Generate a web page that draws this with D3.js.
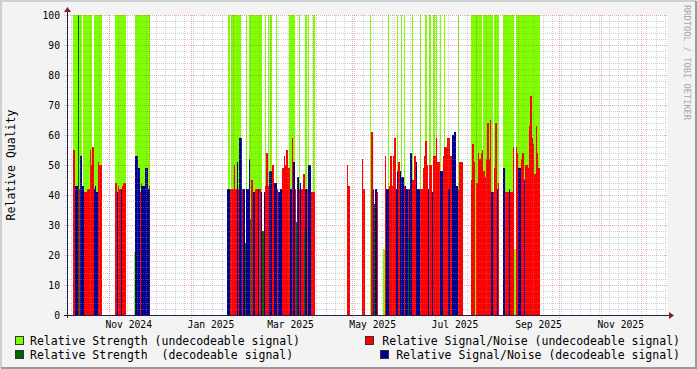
<!DOCTYPE html>
<html>
<head>
<meta charset="utf-8">
<script src="https://cdn.jsdelivr.net/npm/d3@7/dist/d3.min.js"></script>
<style>
  body { margin: 0; background: #f3f3f3; }
  svg { display: block; }
  text { font-family: "DejaVu Sans Mono", monospace; white-space: pre; }
</style>
</head>
<body>
<svg id="chart" width="697" height="369"></svg>
<script>
const n = null;

// Daily values, one run per active period: [first day, values...]
const strengthUndec = [
  ["2024-10-06", [100,100,100,100,100,100,n,100,100,100,100,100,100,100,n,100,100,100,100,100,100]],
  ["2024-11-06", [100,100,100,100,100,100,100,100]],
  ["2024-11-20", [21,100,100,100,100,100,100,100,100,100,100,100]],
  ["2025-01-28", [n,100,n,100,100,100,100,100,100,100, n,n,n,n,100,n,100,100,100,100,
                  100,100,100,100,100,100,n,n,100,n, 100,n,100,n,n,n,100,n,n,n,
                  n,n,n,n,n,n,100,100,100,100, n,n,n,100,n,n,n,n,100,n, 100,n,n,n,100]],
  ["2025-05-14", [100,n,n,n,n,n,n,n,n,n, 22,n,n,100,n,n,n,n,n,n, 100,n,n,100,n,100,n,n,n,n,
                  n,100,n,n,n,n,n,100,n,n, n,100,n,n,100,n,n,100,n,100, n,n,100,n,n,100,n,n,n,n,
                  n,n,n,n,n,100,n,n,n]],
  ["2025-07-28", [100,100,100,100,100,100,100,100,n,100, 100,100,100,100,100,100,n,100,100,100,
                  100,n,n,n,100,100,100,100,100,100, 100,100,22,100,100,100,100,100,100,100,
                  100,100,100,100,100,100,100,100,100,100, 100]]
];

const snrUndec = [
  ["2024-10-06", [55,n,n,n,42,n,n,n,41,41,42,42,55,50,56,n,n,n,51,50,50]],
  ["2024-11-06", [44,n,43,42,n,43,44,44]],
  ["2024-11-20", [n,n,n,n,41,44,n,n,n,n,n,43]],
  ["2025-01-28", [n,n,42,42,42,50,42,n,42,n, n,42,n,n,n,n,n,n,45,n, n,42,42,n,42,n,n,n,43,54,
                  43,n,n,50,50,n,n,42,n,n, n,49,53,50,55,49,49,n,59,n, 42,n,n,42,n,42,47,47,n,42,
                  n,n,41,41,41]],
  ["2025-04-27", [50,43]],
  ["2025-05-08", [52,42]],
  ["2025-05-14", [n,61,n,n,n,41,n,n,n,n, n,53,n,n,43,53,43,53,59,n, n,51,n,n,n,43,n,n,42,n,
                  n,45,45,53,n,n,n,42,42,49, 53,58,50,n,50,50,n,53,53,59, 51,51,n,n,53,56,56,59,59,53,
                  53,n,n,n,n,42,51,51,51]],
  ["2025-07-28", [45,57,51,n,44,54,52,54,55,48, 46,52,64,52,65,41,41,49,64,n,
                  44,n,n,n,n,41,41,41,n,41, 41,56,n,56,54,n,n,52,54,n,
                  50,50,49,63,73,59,57,47,63,54, 49]]
];

const strengthDec = [
  ["2024-10-09", [100]],
  ["2025-02-10", [24,n,n,n,32]],
  ["2025-02-23", [28]],
  ["2025-03-20", [31,n,n,n,n,n,28]],
  ["2025-05-17", [37]],
  ["2025-06-11", [26]]
];

const snrDec = [
  ["2024-10-07", [43,43,n,n,53,43,43]],
  ["2024-10-21", [42,43,41]],
  ["2024-11-07", [41,n,n,42]],
  ["2024-11-21", [53,53,49,n,43,43,43,49,49,42,42]],
  ["2025-01-28", [42,42,n,n,n,n,n,51,n,59, 59,n,42,n,42,42,52,n,n,41, 41,n,n,42,n,41,n,41,n,n,
                  n,48,48,n,n,44,44,n,41,42, 42,n,n,n,n,n,n,42,n,51, n,n,46,n,44,n,n,n,42,n,
                  50,50,n,n,n]],
  ["2025-05-14", [n,n,42,n,42,n,n,n,n,n, n,n,42,42,n,n,n,n,n,42, 48,n,48,46,46,n,43,42,n,42,
                  54,n,n,n,51,42,42,n,n,n, n,n,n,42,n,n,41,n,n,n, n,n,48,48,n,n,n,n,42,n,
                  n,60,61,61,43,n,n,n,n]],
  ["2025-08-12", [41,n,n,n,42, n,n,n,n,49,n,n,n,42,n, n,n,n,n,n,49,49,n,n,45]]
];

const series = [
  { name: "Relative Strength (undecodeable signal)", data: strengthUndec, color: "#7fff00" },
  { name: "Relative Signal/Noise (undecodeable signal)", data: snrUndec, color: "#ff0000" },
  { name: "Relative Strength  (decodeable signal)", data: strengthDec, color: "#006400" },
  { name: "Relative Signal/Noise (decodeable signal)", data: snrDec, color: "#000090" }
];

const monthLabels = ["Nov 2024", "Jan 2025", "Mar 2025", "May 2025", "Jul 2025", "Sep 2025", "Nov 2025"];
const yTicks = d3.range(0, 101, 10);

const W = 697, H = 369;
const pLeft = 67, pRight = 667, pTop = 15, pBottom = 315;

const svg = d3.select("#chart");
const parse = d3.utcParse("%Y-%m-%d");
const day = 864e5;

const x = d3.scaleUtc()
  .domain([new Date(Date.UTC(2024, 9, 1, 5)), new Date(Date.UTC(2025, 11, 20, 8))])
  .range([pLeft, pRight]);
const y = d3.scaleLinear().domain([0, 100]).range([pBottom, pTop]);

// flatten runs into daily points
function expand(runs) {
  const out = [];
  for (const [start, vals] of runs) {
    const t0 = parse(start).getTime();
    vals.forEach((v, i) => { if (v != null) out.push({ t: new Date(t0 + i * day), v }); });
  }
  return out;
}

// frame and canvas
svg.append("rect").attr("width", W).attr("height", H).attr("fill", "#f3f3f3");
svg.append("path").attr("d", `M1,${H - 1}V1H${W - 1}`).attr("fill", "none")
  .attr("stroke", "#cfcfcf").attr("stroke-width", 2);
svg.append("path").attr("d", `M1,${H - 1}H${W - 1}V1`).attr("fill", "none")
  .attr("stroke", "#9a9a9a").attr("stroke-width", 2);
svg.append("rect").attr("x", pLeft).attr("y", pTop)
  .attr("width", pRight - pLeft).attr("height", pBottom - pTop).attr("fill", "#fff");

// data (RRD style step areas, one rect per day)
const plot = svg.append("g").attr("shape-rendering", "crispEdges");
series.forEach((s) => {
  plot.append("g").selectAll("rect")
    .data(expand(s.data))
    .join("rect")
    .attr("x", (d) => x(d.t))
    .attr("width", (d) => x(new Date(d.t.getTime() + day)) - x(d.t))
    .attr("y", (d) => y(d.v))
    .attr("height", (d) => y(0) - y(d.v))
    .attr("fill", s.color);
});

// grid on top of the data
const grid = svg.append("g").attr("shape-rendering", "crispEdges").attr("stroke-dasharray", "1,1");
const minorCol = "rgba(140,140,140,0.4)";
const majorCol = "rgba(220,60,60,0.42)";

d3.range(0, 101, 2).filter((v) => v % 10 !== 0).forEach((v) => {
  grid.append("line").attr("x1", pLeft - 2).attr("x2", pRight)
    .attr("y1", y(v) + 0.5).attr("y2", y(v) + 0.5).attr("stroke", minorCol);
});
d3.utcFriday.range(...x.domain()).forEach((t) => {
  grid.append("line").attr("x1", x(t) + 0.5).attr("x2", x(t) + 0.5)
    .attr("y1", pTop).attr("y2", pBottom + 2).attr("stroke", minorCol);
});
yTicks.forEach((v) => {
  grid.append("line").attr("x1", pLeft - 3).attr("x2", pRight)
    .attr("y1", y(v) + 0.5).attr("y2", y(v) + 0.5).attr("stroke", majorCol);
});
d3.utcMonth.range(...x.domain()).forEach((t) => {
  grid.append("line").attr("x1", x(t) + 0.5).attr("x2", x(t) + 0.5)
    .attr("y1", pTop).attr("y2", pBottom + 3).attr("stroke", majorCol);
});

// axes
const axisCol = "#20204a";
svg.append("line").attr("x1", pLeft - 3).attr("x2", pRight + 2)
  .attr("y1", pBottom + 0.5).attr("y2", pBottom + 0.5).attr("stroke", axisCol);
svg.append("line").attr("x1", pLeft + 0.5).attr("x2", pLeft + 0.5)
  .attr("y1", pBottom + 3).attr("y2", pTop - 3).attr("stroke", axisCol);
svg.append("path").attr("d", `M${pRight + 2},${pBottom - 3}L${pRight + 7},${pBottom + 0.5}L${pRight + 2},${pBottom + 4}Z`)
  .attr("fill", "#7f1f1f");
svg.append("path").attr("d", `M${pLeft - 3},${pTop - 3}L${pLeft + 0.5},${pTop - 8}L${pLeft + 4},${pTop - 3}Z`)
  .attr("fill", "#7f1f1f");

// tick labels
svg.append("g").selectAll("text").data(yTicks).join("text")
  .attr("x", 60).attr("y", (d) => y(d) + 3.5)
  .attr("text-anchor", "end").attr("font-size", "9.7px").attr("fill", "#000")
  .text((d) => d);

const labelTimes = monthLabels.map((m) => d3.utcDay.offset(d3.utcParse("%b %Y")(m), 15));
svg.append("g").selectAll("text").data(labelTimes).join("text")
  .attr("x", (d) => x(d)).attr("y", 328)
  .attr("text-anchor", "middle").attr("font-size", "9.7px").attr("fill", "#000")
  .text((d, i) => monthLabels[i]);

// vertical titles
svg.append("text").attr("transform", "translate(15,165) rotate(-90)")
  .attr("text-anchor", "middle").attr("font-size", "11.5px").attr("fill", "#000")
  .text("Relative Quality");
svg.append("text").attr("transform", "translate(684,5) rotate(90)")
  .attr("font-size", "8.7px").attr("fill", "#a8a8a8")
  .text("RRDTOOL / TOBI OETIKER");

// legend
const legendPos = [
  { bx: 15, y: 345, anchor: "start" },
  { bx: 365, y: 345, anchor: "end" },
  { bx: 15, y: 359, anchor: "start" },
  { bx: 380, y: 359, anchor: "end" }
];
series.forEach((s, i) => {
  const p = legendPos[i];
  svg.append("rect").attr("x", p.bx + 0.5).attr("y", p.y - 8.5)
    .attr("width", 8).attr("height", 8)
    .attr("fill", s.color).attr("stroke", "#333").attr("stroke-width", 1)
    .attr("shape-rendering", "crispEdges");
  svg.append("text")
    .attr("x", p.anchor === "start" ? p.bx + 15 : 680)
    .attr("y", p.y).attr("text-anchor", p.anchor)
    .attr("font-size", "11.5px").attr("fill", "#000")
    .attr("xml:space", "preserve")
    .text(s.name);
});
</script>
</body>
</html>
